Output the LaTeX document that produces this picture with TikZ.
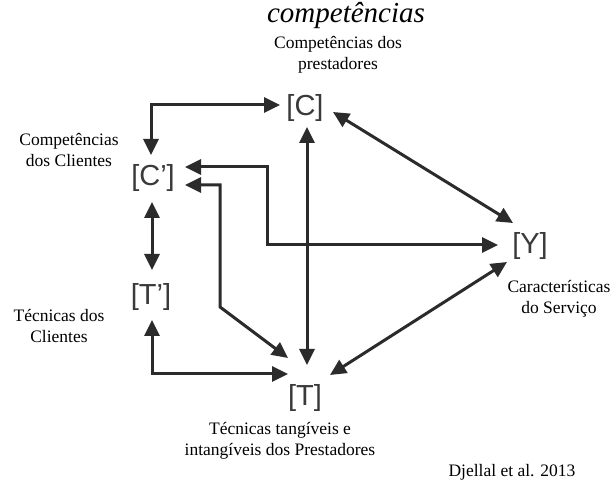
\documentclass[tikz,border=0pt]{standalone}
\usepackage{fontspec}
\setmainfont{Liberation Serif}
\newfontfamily\bracketfont{Liberation Sans}
\usetikzlibrary{arrows.meta}
\definecolor{ink}{HTML}{2B2B2B}
\definecolor{varink}{HTML}{3A3A3A}
\begin{document}
\begin{tikzpicture}[x=1pt,y=1pt,
  var/.style={font=\bracketfont\fontsize{29}{29}\selectfont, text=varink, inner sep=0pt},
  lbl/.style={font=\fontsize{17.5}{21}\selectfont, align=center, inner sep=0pt},
  ttl/.style={font=\itshape\fontsize{29}{29}\selectfont, inner sep=0pt},
  dbl/.style={draw=ink, line width=3pt,
    {Triangle[length=16pt,width=15pt]}-{Triangle[length=16pt,width=15pt]}},
]
\useasboundingbox (0,0) rectangle (613,481);

% variables of the model
\node[var] (C)  at (305,373) {[C]};
\node[var] (Cp) at (153,303) {[C’]};
\node[var] (Tp) at (151,184) {[T’]};
\node[var] (T)  at (305,83)  {[T]};
\node[var] (Y)  at (530,235) {[Y]};

% captions
\node[ttl] (title) at (346,465) {competências};
\node[lbl] (capC)  at (338,426) {Competências dos\\prestadores};
\node[lbl] (capCp) at (69,331)  {Competências\\dos Clientes};
\node[lbl] (capTp) at (59,155)  {Técnicas dos\\Clientes};
\node[lbl] (capY)  at (559,182) {Características\\do Serviço};
\node[lbl] (capT)  at (280,40)  {Técnicas tangíveis e\\intangíveis dos Prestadores};
\node[lbl] (src)   at (512,9)   {Djellal et al. 2013};

% links between the variables
\draw[dbl] ([shift={(-2,23)}]Cp.center) |- ([shift={(-25,3)}]C.center);
\draw[dbl] ([shift={(2,-19)}]C.center) -- ([shift={(2,33)}]T.center);
\draw[dbl] ([shift={(28,-4)}]C.center) -- ([shift={(-17,23)}]Y.center);
\draw[dbl] ([shift={(32,11)}]Cp.center) -- ++(82,0) |- ([shift={(-32,1)}]Y.center);
\draw[dbl] ([shift={(32,-7)}]Cp.center) -- ++(35,0) -- ++(0,-122) -- ([shift={(-17,40)}]T.center);
\draw[dbl] ([shift={(-1,-24)}]Cp.center) -- ([shift={(1,27)}]Tp.center);
\draw[dbl] ([shift={(1,-23)}]Tp.center) |- ([shift={(-17,24)}]T.center);
\draw[dbl] ([shift={(-23,-16)}]Y.center) -- ([shift={(25,23)}]T.center);
\end{tikzpicture}
\end{document}
